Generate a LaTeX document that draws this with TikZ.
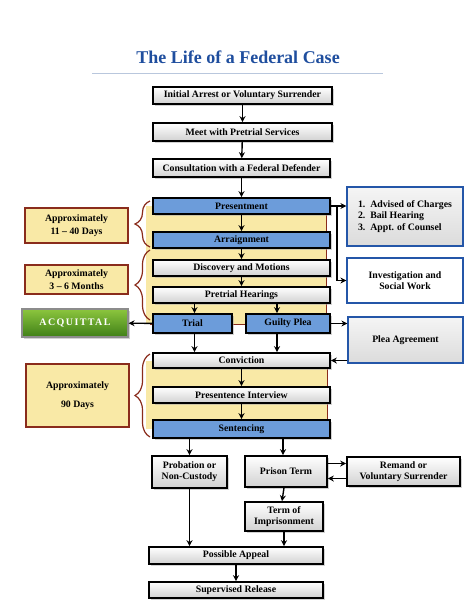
\documentclass[tikz,border=0pt]{standalone}
\usepackage{fontspec}
\setmainfont{Liberation Serif}
\newfontfamily\spacedfont[LetterSpace=14]{Liberation Serif}
\usetikzlibrary{arrows.meta,shadows,decorations.pathreplacing}
\definecolor{boxblue}{HTML}{6C9CDA}
\definecolor{paleyellow}{HTML}{F9E9A6}
\definecolor{bracered}{HTML}{8A2C1C}
\definecolor{titleblue}{HTML}{1F4E9E}
\definecolor{frameblue}{HTML}{2456A8}
\definecolor{rulegrey}{HTML}{B9C7DD}
\definecolor{leafgreen}{HTML}{8CC63E}
\definecolor{darkgreen}{HTML}{3F7F17}
\begin{document}
\begin{tikzpicture}[x=1pt, y=-1pt,
  main/.style = {draw, line width=1.6pt, font=\bfseries\fontsize{9.8}{11}\selectfont, inner sep=1pt, align=center, drop shadow={shadow xshift=1.5pt, shadow yshift=-1.5pt, fill=black!35}},
  greybox/.style = {main, top color=white, bottom color=black!18},
  bluebox/.style = {main, fill=boxblue},
  side/.style = {draw=frameblue, line width=1.2pt, font=\bfseries\fontsize{9.8}{11.5}\selectfont, align=center},
  span/.style = {draw=bracered, line width=1.2pt, fill=paleyellow, font=\bfseries\fontsize{9.8}{13}\selectfont, align=center},
  curly/.style = {draw=bracered, line width=1.2pt, decorate, decoration={brace, amplitude=15pt}},
  arr/.style = {-{Stealth[length=6pt, width=6pt]}, line width=1.4pt}]
\useasboundingbox (0,0) rectangle (474,614);

\node[font=\bfseries\fontsize{18}{21}\selectfont, text=titleblue] (t) at (238,57) {The Life of a Federal Case};
\draw[rulegrey, line width=1pt] (92,73) -- (383,73);

\fill[paleyellow] (146,206) rectangle (326,324);
\draw[bracered, line width=1pt] (326,206) -- (326,324) -- (150,324);
\fill[paleyellow] (146,361) rectangle (327,429);
\draw[bracered, line width=1pt] (327,361) -- (327,429);
\draw[curly] (150,247) -- (150,201);
\draw[curly] (150,320) -- (150,250);
\draw[curly] (150,437) -- (150,354);

\node[greybox, minimum width=179, minimum height=17] (1) at (242.5,95.5) {Initial Arrest or Voluntary Surrender};
\node[greybox, minimum width=179, minimum height=18] (2) at (242.5,132) {Meet with Pretrial Services};
\node[greybox, minimum width=177, minimum height=18] (3) at (241.5,168) {Consultation with a Federal Defender};
\node[bluebox, minimum width=177, minimum height=16] (4) at (241.5,206) {Presentment};
\node[bluebox, minimum width=177, minimum height=16] (5) at (241.5,240) {Arraignment};
\node[greybox, minimum width=177, minimum height=16] (6) at (241.5,268) {Discovery and Motions};
\node[greybox, minimum width=177, minimum height=16] (7) at (241.5,295) {Pretrial Hearings};
\node[bluebox, minimum width=79, minimum height=19] (8) at (192.5,323.5) {Trial};
\node[bluebox, minimum width=84, minimum height=19] (9) at (288,323.5) {Guilty Plea};
\node[draw=black!45, line width=1.2pt, top color=leafgreen, bottom color=darkgreen, text=white, font=\spacedfont\bfseries\fontsize{10}{11}\selectfont, minimum width=106, minimum height=28, drop shadow={shadow xshift=1.5pt, shadow yshift=-1.5pt, fill=black!35}] (10) at (75,323) {ACQUITTAL};
\node[greybox, minimum width=177, minimum height=15] (11) at (241.5,360.5) {Conviction};
\node[greybox, minimum width=177, minimum height=16] (12) at (241.5,395) {Presentence Interview};
\node[bluebox, minimum width=177, minimum height=18] (13) at (241.5,429) {Sentencing};
\node[greybox, minimum width=75, minimum height=32] (14) at (189.5,472) {Probation or\\Non-Custody};
\node[greybox, minimum width=82, minimum height=31] (15) at (286,471.5) {Prison Term};
\node[greybox, minimum width=113, minimum height=29] (16) at (403.5,471.5) {Remand or\\Voluntary Surrender};
\node[greybox, minimum width=78, minimum height=29] (17) at (284,516.5) {Term of\\Imprisonment};
\node[greybox, minimum width=174, minimum height=17] (18) at (236,555.5) {Possible Appeal};
\node[greybox, minimum width=174, minimum height=16] (19) at (236,590) {Supervised Release};

\node[side, top color=black!4, bottom color=black!14, minimum width=116, minimum height=59, align=left] (20) at (405,216.5) {1.\enspace Advised of Charges\\2.\enspace Bail Hearing\\3.\enspace Appt. of Counsel};
\node[side, fill=white, minimum width=116, minimum height=45] (21) at (405,280.5) {Investigation and\\Social Work};
\node[side, top color=black!4, bottom color=black!14, minimum width=115, minimum height=46] (22) at (405.5,340) {Plea Agreement};

\node[span, minimum width=103, minimum height=35] (23) at (76.5,225.5) {Approximately\\11 -- 40 Days};
\node[span, minimum width=103, minimum height=29] (24) at (76.5,279.5) {Approximately\\3 -- 6 Months};
\node[span, minimum width=103, minimum height=63] (25) at (77.5,395.5) {Approximately\\[6pt]90 Days};

\draw[arr] (1) -- (2);
\draw[arr] (2) -- (3);
\draw[arr] (3) -- (4);
\draw[arr] (4) -- (5);
\draw[arr] (5) -- (6);
\draw[arr] (6) -- (7);
\draw[arr] ([xshift=2pt]7.south -| 8.north) -- ([xshift=2pt]8.north);
\draw[arr] ([xshift=-11pt]7.south -| 9.north) -- ([xshift=-11pt]9.north);
\draw[arr] (8) -- (10);
\draw[arr] ([xshift=2pt]8.south) -- ([xshift=2pt]8.south |- 11.north);
\draw[arr] ([xshift=-11pt]9.south) -- ([xshift=-11pt]9.south |- 11.north);
\draw[arr] (4.east) -- (4.east -| 20.west);
\draw[arr] (4.east) -- ++(6,0) |- (21.west);
\draw[arr] (9.east) -- (9.east -| 22.west);
\draw[arr] (22.west |- 11.east) -- (11.east);
\draw[arr] (11) -- (12);
\draw[arr] (12) -- (13);
\draw[arr] (13.south -| 14.north) -- (14.north);
\draw[arr] ([xshift=-3pt]13.south -| 15.north) -- ([xshift=-3pt]15.north);
\draw[arr] ([yshift=8pt]15.east) -- ([yshift=8pt]15.east -| 16.west);
\draw[arr] ([yshift=-7pt]16.west) -- ([yshift=-7pt]16.west -| 15.east);
\draw[arr] ([xshift=-2pt]15.south) -- ([xshift=-2pt]17.north);
\draw[arr] (14.south) -- (14.south |- 18.north);
\draw[arr] (17.south) -- (17.south |- 18.north);
\draw[arr] (18) -- (19);
\end{tikzpicture}
\end{document}
